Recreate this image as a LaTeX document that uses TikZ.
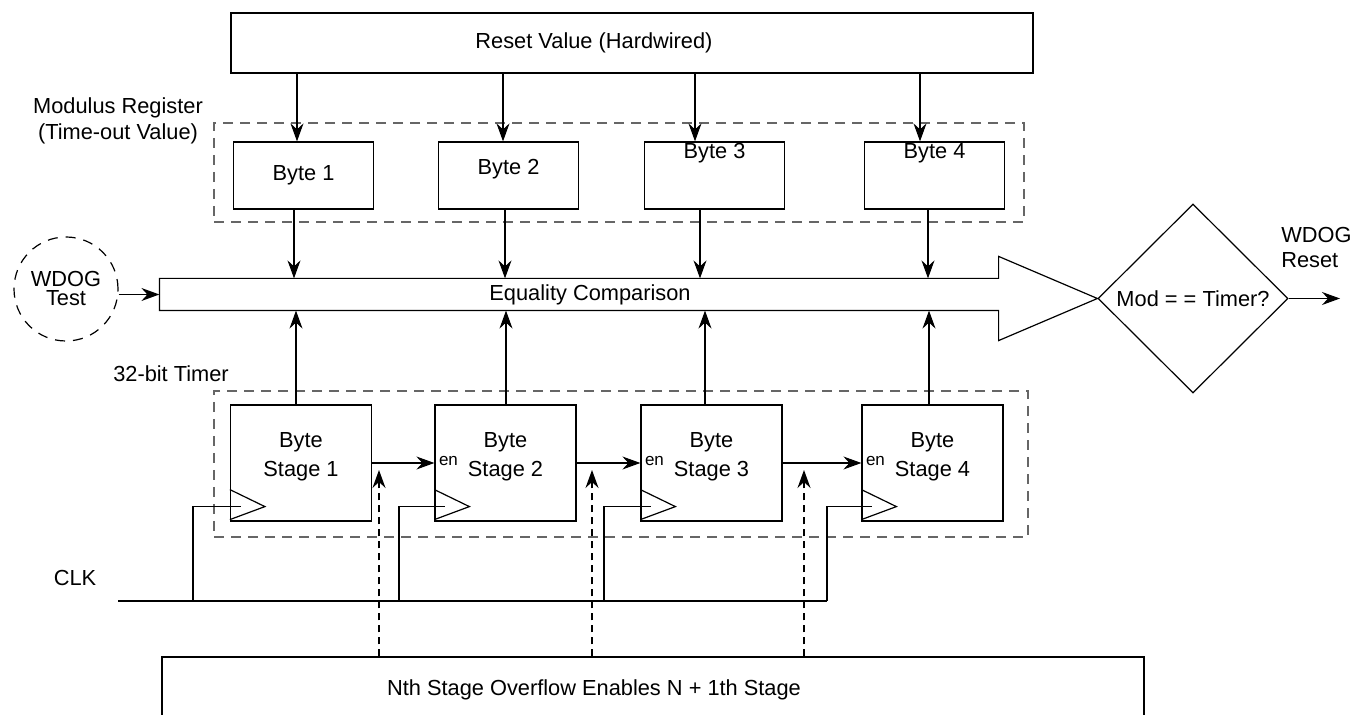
\documentclass[tikz,border=0pt]{standalone}
\usepackage{fontspec}
\setmainfont{Liberation Sans}
\usetikzlibrary{arrows.meta,shapes.geometric}

\begin{document}
\begin{tikzpicture}[x=0.5pt, y=-0.5pt, line width=0.6pt,
      font=\fontsize{10.9}{13}\selectfont,
      every node/.style={align=center},
      box/.style={draw, inner sep=0pt},
      reg/.style={box, minimum width=70pt, minimum height=33.5pt},
      stg/.style={box, minimum width=70.5pt, minimum height=58pt},
      stgtxt/.style={font=\fontsize{10.9}{14.5}\selectfont, yshift=3pt},
      grp/.style={draw=black!60, dash pattern=on 5pt off 3.5pt, inner sep=0pt},
      arr/.style={-{Stealth[length=9pt, width=6.5pt, inset=3pt]}},
      ena/.style={arr, dash pattern=on 3.5pt off 2.5pt},
      enl/.style={font=\fontsize{8.5}{10}\selectfont, anchor=west, inner sep=2pt}]
    \useasboundingbox (0,0) rectangle (1356,715);
    \clip (0,0) rectangle (1356,715);

    % reset value and modulus register
    \node[box, minimum width=401pt, minimum height=30pt] (rst) at (632,43) {};
    \node (rsttxt) at (594,43) {Reset Value (Hardwired)};
    \node[grp, minimum width=405pt, minimum height=49.5pt] (mod) at (619,172.5) {};
    \node (modlbl) at (118,121) {Modulus Register\\(Time-out Value)};
    \foreach \n/\cx/\ty in {1/303.5/0, 2/508.5/3, 3/714.5/11, 4/934.5/11}
      \node[reg, label={[yshift=\ty pt]center:Byte \n}] (b\n) at (\cx,175.5) {};

    % equality comparison
    \node[minimum width=419pt, minimum height=15.5pt, inner sep=0pt] (eq) at (579,294.5) {};
    \node[draw, diamond, aspect=1, minimum width=95pt, minimum height=94.5pt, inner sep=0pt] (dia) at (1193,298.5) {Mod = = Timer?};
    \draw (eq.north east) -- (eq.north west) -- (eq.south west) -- (eq.south east)
      -- ++(0,30) -- (dia.west) -- ([yshift=11pt]eq.north east) -- cycle;
    \node (eqtxt) at (590,295) {Equality Comparison};
    \node[draw, circle, dash pattern=on 5pt off 4pt, minimum size=52pt, inner sep=0pt,
          font=\fontsize{10.9}{9.5}\selectfont] (wt) at (66,289) {WDOG\\Test};
    \draw[arr] (wt.east |- eq.west) -- (eq.west);
    \coordinate (wdr) at (1340,0);
    \draw[arr] (dia.east) -- (dia.east -| wdr);
    \node[anchor=west, align=left, font=\fontsize{10.9}{12.5}\selectfont] (wdrlbl) at (1274,247.5) {WDOG\\Reset};

    \foreach \n/\xi/\xo in {1/297/294, 2/503/505, 3/695/700, 4/920/928} {
      \coordinate (ci) at (\xi,0);
      \coordinate (co) at (\xo,0);
      \draw[arr] (rst.south -| ci) -- (b\n.north -| ci);
      \draw[arr] (b\n.south -| co) -- (eq.north -| co);
    }

    % 32-bit timer
    \node (tmrlbl) at (171,374) {32-bit Timer};
    \node[grp, minimum width=407pt, minimum height=73pt] (tmr) at (621,464) {};
    \foreach \n/\cx in {1/301, 2/505.5, 3/711.5, 4/932.5}
      \node[stg, label={[stgtxt]center:{Byte\\Stage \n}}] (s\n) at (\cx,463) {};
    \foreach \n/\xu in {1/296, 2/506, 3/705, 4/929} {
      \coordinate (cu) at (\xu,0);
      \draw[arr] (s\n.north -| cu) -- (eq.south -| cu);
    }
    \foreach \a/\b in {1/2, 2/3, 3/4} {
      \draw[arr] (s\a.east) -- (s\a.east -| s\b.west);
      \node[enl] (en\b) at ([yshift=1pt]s\b.west) {en};
    }

    % clock
    \node (clk) at (75,578) {CLK};
    \coordinate (clkL) at (118,601);
    \coordinate (clkR) at (827,601);
    \draw (clkL) -- (clkR);
    \foreach \n/\xc in {1/193, 2/399, 3/604, 4/827} {
      \draw ([yshift=16pt]s\n.south west) -- ++(35,17) -- ++(-35,13);
      \coordinate (ck) at (\xc,601);
      \draw (ck) |- ([xshift=5.5pt,yshift=7.5pt]s\n.south west);
    }

    % overflow enables
    \node[box, minimum width=491pt, minimum height=36.5pt] (ovf) at (653,693.5) {};
    \node (ovftxt) at (594,690) {Nth Stage Overflow Enables N + 1th Stage};
    \foreach \xe in {379, 592, 804} {
      \coordinate (ee) at (\xe,470);
      \draw[ena] (ovf.north -| ee) -- (ee);
    }
  \end{tikzpicture}
\end{document}
